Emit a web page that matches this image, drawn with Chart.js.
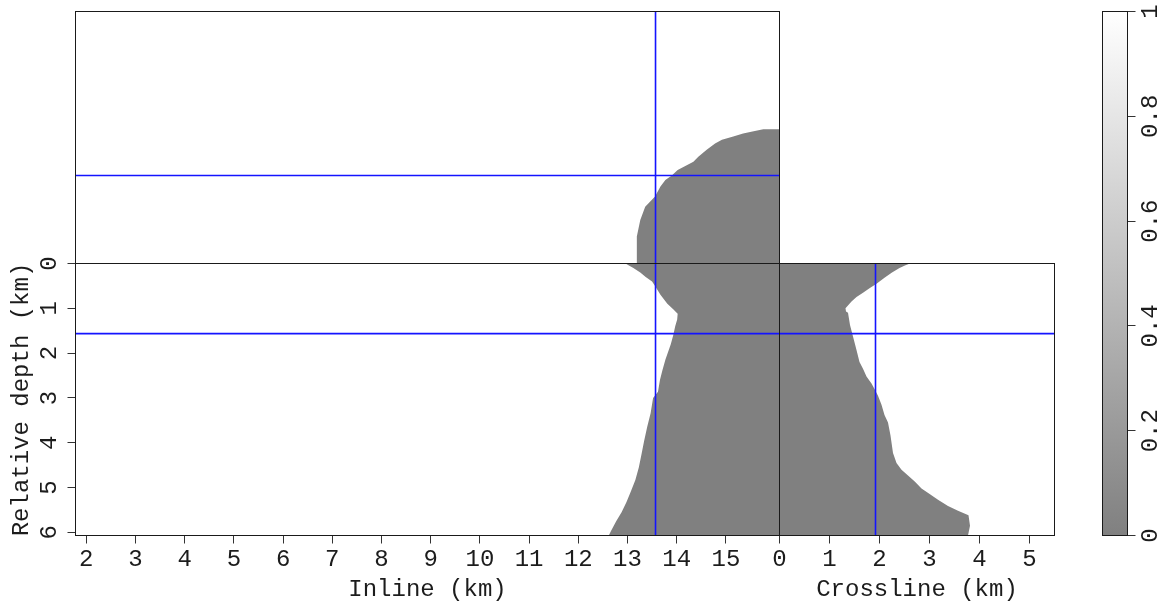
<!DOCTYPE html>
<html>
<head>
<meta charset="utf-8">
<script src="https://cdn.jsdelivr.net/npm/chart.js@4.4.1/dist/chart.umd.min.js"></script>
<style>
  html, body { margin: 0; padding: 0; background: #ffffff; width: 1164px; height: 606px; overflow: hidden; }
  canvas { position: absolute; left: 0; top: 0; }
</style>
</head>
<body>
<canvas id="topView" width="1164" height="606"></canvas>
<canvas id="inlineView" width="1164" height="606"></canvas>
<canvas id="crosslineView" width="1164" height="606"></canvas>
<canvas id="colorBar" width="1164" height="606"></canvas>
<script>
// ---- axis extents (km) ----
const inlineRange = [1.78, 16.09];
const crosslineRange = [0, 5.5];
const depthRange = [0, 6.07];

// ---- tick labels ----
const inlineTicks = [2, 3, 4, 5, 6, 7, 8, 9, 10, 11, 12, 13, 14, 15];
const crosslineTicks = [0, 1, 2, 3, 4, 5];
const depthTicks = [0, 1, 2, 3, 4, 5, 6];
const colorTicks = [0, 0.2, 0.4, 0.6, 0.8, 1];

// ---- slice positions (blue lines) ----
const inlineSlice = 13.57;
const crosslineSlice = 1.92;
const depthSlice = 1.565;

// ---- model values and colour scale ----
const colorRange = [0, 1];
const saltValue = 0;

// ---- salt outline on the inline section: depth (km) -> western salt edge (inline km) ----
const frontDepth  = [0.00, 0.04, 0.10, 0.20, 0.30, 0.40, 0.52, 0.70, 0.90, 1.03, 1.12, 1.25, 1.40, 1.60, 1.80, 2.15, 2.38, 2.60, 2.86, 3.00, 3.34, 3.65, 3.95, 4.23, 4.55, 4.83, 5.08, 5.32, 5.55, 5.75, 5.96, 6.07];
const frontInline = [12.96, 13.02, 13.12, 13.26, 13.37, 13.50, 13.57, 13.67, 13.81, 13.94, 14.02, 14.01, 13.97, 13.93, 13.88, 13.77, 13.71, 13.66, 13.62, 13.52, 13.47, 13.40, 13.34, 13.29, 13.23, 13.16, 13.07, 12.98, 12.88, 12.77, 12.67, 12.62];

// ---- salt outline on the crossline section: depth (km) -> salt edge (crossline km) ----
const sideDepth     = [0.00, 0.04, 0.10, 0.20, 0.32, 0.45, 0.55, 0.65, 0.75, 0.85, 1.00, 1.07, 1.10, 1.37, 1.63, 1.93, 2.20, 2.35, 2.52, 2.68, 2.80, 2.95, 3.15, 3.38, 3.55, 3.84, 4.23, 4.45, 4.60, 4.73, 4.87, 5.02, 5.15, 5.27, 5.41, 5.52, 5.62, 5.85, 6.07];
const sideCrossline = [2.61, 2.52, 2.40, 2.25, 2.10, 1.94, 1.80, 1.67, 1.54, 1.44, 1.32, 1.33, 1.37, 1.41, 1.47, 1.54, 1.60, 1.67, 1.74, 1.84, 1.90, 1.97, 2.04, 2.10, 2.17, 2.22, 2.27, 2.34, 2.44, 2.57, 2.71, 2.84, 3.01, 3.17, 3.37, 3.57, 3.78, 3.81, 3.77];

// ---- salt outline on the depth slice: crossline (km) -> western salt edge (inline km) ----
const topCrossline = [0.00, 0.59, 0.95, 1.24, 1.46, 1.68, 1.82, 1.92, 2.04, 2.22, 2.33, 2.48, 2.62, 2.70, 2.77, 2.84, 2.88, 2.93];
const topInline    = [13.18, 13.19, 13.26, 13.36, 13.56, 13.67, 13.77, 13.90, 14.02, 14.34, 14.44, 14.61, 14.78, 14.92, 15.15, 15.35, 15.54, 15.76];

// ---- styling ----
const FONT = "'Liberation Mono', 'DejaVu Sans Mono', monospace";
const tickFont = { family: FONT, size: 24, lineHeight: 1.2 };
const titleFont = { family: FONT, size: 24, lineHeight: 1.2 };
const textColor = '#1c1c1c';
const tickColor = '#333333';
const frameColor = '#1a1a1a';
const sliceColor = '#1414ff';

// grey ramp: low end mid-grey, high end white
function grayAt(v) {
  const t = (v - colorRange[0]) / (colorRange[1] - colorRange[0]);
  const g = Math.round(128 + 127 * t);
  return `rgb(${g},${g},${g})`;
}

// frame drawn round every panel
const panelFrame = {
  id: 'panelFrame',
  afterDatasetsDraw(chart) {
    const { ctx, chartArea: a } = chart;
    ctx.save();
    ctx.strokeStyle = frameColor;
    ctx.lineWidth = 1;
    ctx.strokeRect(a.left, a.top, a.right - a.left, a.bottom - a.top);
    ctx.restore();
  }
};

const fixedTicks = (values) => (scale) => { scale.ticks = values.map(v => ({ value: v })); };

function tickGrid() {
  return { display: true, drawOnChartArea: false, drawTicks: true, tickLength: 8, color: tickColor, lineWidth: 1 };
}

function saltPolygon(xs, ys, closing) {
  const pts = xs.map((x, i) => ({ x, y: ys[i] }));
  closing.forEach(p => pts.push(p));
  pts.push({ x: xs[0], y: ys[0] });
  return pts;
}

function saltDataset(points) {
  return {
    data: points, showLine: true, fill: 'shape', tension: 0,
    backgroundColor: grayAt(saltValue), borderWidth: 0, borderColor: 'rgba(0,0,0,0)',
    pointRadius: 0, order: 2
  };
}

function sliceDataset(points) {
  return {
    data: points, showLine: true, fill: false, tension: 0,
    borderColor: sliceColor, borderWidth: 1.6, pointRadius: 0, order: 1
  };
}

const common = {
  responsive: false, animation: false, devicePixelRatio: 1, events: [],
  plugins: { legend: { display: false }, tooltip: { enabled: false } }
};

// ---- depth slice (top panel) ----
new Chart(document.getElementById('topView'), {
  type: 'scatter',
  data: {
    datasets: [
      saltDataset(saltPolygon(topInline, topCrossline, [
        { x: inlineRange[1], y: topCrossline[topCrossline.length - 1] },
        { x: inlineRange[1], y: crosslineRange[0] }
      ])),
      sliceDataset([{ x: inlineSlice, y: crosslineRange[0] }, { x: inlineSlice, y: crosslineRange[1] }]),
      sliceDataset([{ x: inlineRange[0], y: crosslineSlice }, { x: inlineRange[1], y: crosslineSlice }])
    ]
  },
  options: {
    ...common,
    layout: { padding: { left: 75.5, top: 11.5, right: 384.5, bottom: 342.5 } },
    scales: {
      x: { type: 'linear', display: false, min: inlineRange[0], max: inlineRange[1] },
      y: { type: 'linear', display: false, min: crosslineRange[0], max: crosslineRange[1] }
    }
  },
  plugins: [panelFrame]
});

// ---- inline section (front panel) ----
new Chart(document.getElementById('inlineView'), {
  type: 'scatter',
  data: {
    datasets: [
      saltDataset(saltPolygon(frontInline, frontDepth, [
        { x: inlineRange[1], y: depthRange[1] },
        { x: inlineRange[1], y: depthRange[0] }
      ])),
      sliceDataset([{ x: inlineSlice, y: depthRange[0] }, { x: inlineSlice, y: depthRange[1] }]),
      sliceDataset([{ x: inlineRange[0], y: depthSlice }, { x: inlineRange[1], y: depthSlice }])
    ]
  },
  options: {
    ...common,
    layout: { padding: { left: 0, top: 263.5, right: 384.5, bottom: 0 } },
    scales: {
      x: {
        type: 'linear', position: 'bottom', min: inlineRange[0], max: inlineRange[1],
        afterBuildTicks: fixedTicks(inlineTicks),
        afterFit: s => { s.height = 70.5; },
        ticks: { autoSkip: false, minRotation: 0, maxRotation: 0, padding: 2, font: tickFont, color: textColor, callback: v => String(v) },
        grid: tickGrid(), border: { display: false },
        title: { display: true, text: 'Inline (km)', font: titleFont, color: textColor, padding: { top: 0, bottom: 2 } }
      },
      y: {
        type: 'linear', position: 'left', reverse: true, min: depthRange[0], max: depthRange[1],
        afterBuildTicks: fixedTicks(depthTicks),
        afterFit: s => { s.width = 75.5; },
        ticks: { autoSkip: false, minRotation: 90, maxRotation: 90, crossAlign: 'center', padding: 11, font: tickFont, color: textColor, callback: v => String(v) },
        grid: tickGrid(), border: { display: false },
        title: { display: true, text: 'Relative depth (km)', font: titleFont, color: textColor, padding: { top: 7.6, bottom: 0 } }
      }
    }
  },
  plugins: [panelFrame]
});

// ---- crossline section (side panel) ----
new Chart(document.getElementById('crosslineView'), {
  type: 'scatter',
  data: {
    datasets: [
      saltDataset(saltPolygon(sideCrossline, sideDepth, [
        { x: crosslineRange[0], y: depthRange[1] },
        { x: crosslineRange[0], y: depthRange[0] }
      ])),
      sliceDataset([{ x: crosslineSlice, y: depthRange[0] }, { x: crosslineSlice, y: depthRange[1] }]),
      sliceDataset([{ x: crosslineRange[0], y: depthSlice }, { x: crosslineRange[1], y: depthSlice }])
    ]
  },
  options: {
    ...common,
    layout: { padding: { left: 779.5, top: 263.5, right: 109.5, bottom: 0 } },
    scales: {
      x: {
        type: 'linear', position: 'bottom', min: crosslineRange[0], max: crosslineRange[1],
        afterBuildTicks: fixedTicks(crosslineTicks),
        afterFit: s => { s.height = 70.5; },
        ticks: { autoSkip: false, minRotation: 0, maxRotation: 0, padding: 2, font: tickFont, color: textColor, callback: v => String(v) },
        grid: tickGrid(), border: { display: false },
        title: { display: true, text: 'Crossline (km)', font: titleFont, color: textColor, padding: { top: 0, bottom: 2 } }
      },
      y: { type: 'linear', display: false, reverse: true, min: depthRange[0], max: depthRange[1] }
    }
  },
  plugins: [panelFrame]
});

// ---- colour bar ----
new Chart(document.getElementById('colorBar'), {
  type: 'bar',
  data: {
    labels: [''],
    datasets: [{
      data: [colorRange[1]],
      barPercentage: 1, categoryPercentage: 1, borderWidth: 0,
      backgroundColor: (c) => {
        const chart = c.chart;
        const y = chart.scales.y;
        if (!chart.chartArea || !y) return grayAt(colorRange[0]);
        const g = chart.ctx.createLinearGradient(0, y.getPixelForValue(colorRange[0]), 0, y.getPixelForValue(colorRange[1]));
        g.addColorStop(0, grayAt(colorRange[0]));
        g.addColorStop(1, grayAt(colorRange[1]));
        return g;
      }
    }]
  },
  options: {
    ...common,
    layout: { padding: { left: 1102.5, top: 11.5, right: 0, bottom: 70.5 } },
    scales: {
      x: { type: 'category', display: false },
      y: {
        type: 'linear', position: 'right', min: colorRange[0], max: colorRange[1],
        afterBuildTicks: fixedTicks(colorTicks),
        afterFit: s => { s.width = 36.5; },
        ticks: { autoSkip: false, minRotation: 90, maxRotation: 90, crossAlign: 'center', padding: -6, font: tickFont, color: textColor, callback: v => String(v) },
        grid: tickGrid(), border: { display: false }
      }
    }
  },
  plugins: [panelFrame]
});
</script>
</body>
</html>
